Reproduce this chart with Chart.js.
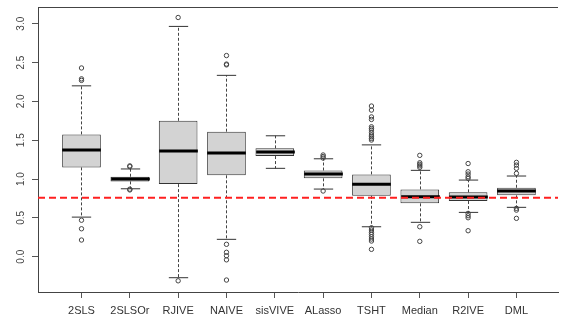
<!DOCTYPE html>
<html>
<head>
<meta charset="utf-8">
<script src="https://cdn.jsdelivr.net/npm/chart.js@4.4.1/dist/chart.umd.min.js"></script>
<style>
  body { margin: 0; background: #fff; }
  #wrap { width: 563px; height: 323px; }
</style>
</head>
<body>
<div id="wrap"><canvas id="boxChart"></canvas></div>
<script>
const labels = ["2SLS", "2SLSOr", "RJIVE", "NAIVE", "sisVIVE", "ALasso", "TSHT", "Median", "R2IVE", "DML"];
const whiskerLow = [0.51, 0.875, -0.27, 0.224, 1.138, 0.871, 0.386, 0.443, 0.571, 0.636];
const q1 = [1.15, 0.97, 0.935, 1.048, 1.296, 1.009, 0.785, 0.687, 0.717, 0.79];
const medians = [1.373, 1.0, 1.36, 1.335, 1.347, 1.064, 0.932, 0.772, 0.768, 0.846];
const q3 = [1.575, 1.03, 1.75, 1.61, 1.395, 1.11, 1.06, 0.867, 0.829, 0.888];
const whiskerHigh = [2.2, 1.13, 2.965, 2.335, 1.557, 1.261, 1.44, 1.112, 0.987, 1.039];
const outliers = [
  [2.43, 2.29, 2.27, 0.47, 0.36, 0.215],
  [1.17, 1.16, 0.87, 0.86],
  [3.08, -0.31],
  [2.59, 2.48, 2.47, 0.16, 0.057, 0.013, -0.04, -0.3],
  [],
  [1.31, 1.29, 1.27, 0.846],
  [1.94, 1.888, 1.8, 1.767, 1.673, 1.651, 1.63, 1.596, 1.566, 1.544, 1.523, 1.502,
   0.373, 0.344, 0.314, 0.288, 0.257, 0.228, 0.202, 0.095],
  [1.305, 1.21, 1.19, 1.17, 1.15, 0.386, 0.198],
  [1.2, 1.094, 1.064, 1.03, 1.009, 0.558, 0.528, 0.502, 0.335],
  [1.215, 1.18, 1.138, 1.073, 0.623, 0.6, 0.494]
];
const yTicks = [0, 0.5, 1, 1.5, 2, 2.5, 3];
const refValue = 0.76;

const xMin = 0.1;
const xMax = 10.86;
const positions = labels.map((_, i) => i + 1);

// whiskers, staples and medians, drawn right after the boxes
const boxExtras = {
  id: "boxExtras",
  afterDatasetDraw(chart, args) {
    if (args.index !== 2) return;
    const ctx = chart.ctx;
    const x = chart.scales.x;
    const y = chart.scales.y;
    const unit = x.getPixelForValue(2) - x.getPixelForValue(1);
    ctx.save();
    positions.forEach((p, i) => {
      const cx = Math.round(x.getPixelForValue(p)) + 0.5;
      const hi = y.getPixelForValue(whiskerHigh[i]);
      const lo = y.getPixelForValue(whiskerLow[i]);

      ctx.strokeStyle = "#444";
      ctx.lineWidth = 1;
      ctx.setLineDash([3, 2]);
      ctx.beginPath();
      ctx.moveTo(cx, y.getPixelForValue(q3[i]));
      ctx.lineTo(cx, hi);
      ctx.moveTo(cx, y.getPixelForValue(q1[i]));
      ctx.lineTo(cx, lo);
      ctx.stroke();

      ctx.setLineDash([]);
      ctx.strokeStyle = "#333";
      ctx.beginPath();
      ctx.moveTo(cx - unit * 0.2, hi);
      ctx.lineTo(cx + unit * 0.2, hi);
      ctx.moveTo(cx - unit * 0.2, lo);
      ctx.lineTo(cx + unit * 0.2, lo);
      ctx.stroke();

      const my = y.getPixelForValue(medians[i]);
      ctx.strokeStyle = "#000";
      ctx.lineWidth = 3;
      ctx.beginPath();
      ctx.moveTo(cx - unit * 0.4, my);
      ctx.lineTo(cx + unit * 0.4, my);
      ctx.stroke();
    });
    ctx.restore();
  }
};

// top frame line and rotated y tick labels
const frame = {
  id: "frame",
  afterDraw(chart) {
    const ctx = chart.ctx;
    const area = chart.chartArea;
    const y = chart.scales.y;
    ctx.save();
    ctx.strokeStyle = "#444";
    ctx.lineWidth = 1;
    ctx.beginPath();
    ctx.moveTo(area.left, Math.round(area.top) + 0.5);
    ctx.lineTo(area.right, Math.round(area.top) + 0.5);
    ctx.stroke();

    ctx.fillStyle = "#444";
    ctx.font = "10px 'Liberation Sans', Arial, sans-serif";
    ctx.textAlign = "center";
    ctx.textBaseline = "alphabetic";
    yTicks.forEach((v) => {
      ctx.save();
      ctx.translate(23.5, y.getPixelForValue(v));
      ctx.rotate(-Math.PI / 2);
      ctx.fillText(v.toFixed(1), 0, 0);
      ctx.restore();
    });
    ctx.restore();
  }
};

const outlierPoints = [];
outliers.forEach((list, i) => {
  list.forEach((v) => outlierPoints.push({ x: positions[i], y: v }));
});

new Chart(document.getElementById("boxChart"), {
  type: "bar",
  data: {
    datasets: [
      {
        type: "line",
        data: [{ x: xMin, y: refValue }, { x: xMax, y: refValue }],
        borderColor: "#ff2020",
        borderWidth: 2,
        borderDash: [7, 4],
        pointRadius: 0,
      },
      {
        type: "line",
        data: outlierPoints,
        showLine: false,
        pointRadius: 2.2,
        pointBorderWidth: 1,
        pointBorderColor: "#444",
        pointBackgroundColor: "rgba(0,0,0,0)",
      },
      {
        type: "bar",
        data: positions.map((p, i) => ({ x: p, y: [q1[i], q3[i]] })),
        backgroundColor: "#d3d3d3",
        borderColor: "#333",
        borderWidth: 1,
        borderSkipped: false,
        categoryPercentage: 1,
        barPercentage: 0.8,
      },
    ],
  },
  options: {
    responsive: true,
    maintainAspectRatio: false,
    animation: false,
    layout: { padding: { top: 7, right: 0, left: 0, bottom: 0 } },
    plugins: { legend: { display: false }, tooltip: { enabled: false } },
    scales: {
      x: {
        type: "linear",
        min: xMin,
        max: xMax,
        offset: false,
        afterBuildTicks: (s) => { s.ticks = positions.map((p) => ({ value: p })); },
        afterFit: (s) => { s.height = 31; },
        grid: { offset: false, drawOnChartArea: false, drawTicks: true, tickLength: 6, color: "#555" },
        border: { display: true, color: "#444" },
        ticks: {
          autoSkip: false,
          maxRotation: 0,
          padding: 6,
          color: "#333",
          font: { family: "'Liberation Sans', Arial, sans-serif", size: 11 },
          callback: (v) => labels[v - 1],
        },
      },
      y: {
        min: -0.454,
        max: 3.215,
        afterBuildTicks: (s) => { s.ticks = yTicks.map((v) => ({ value: v })); },
        afterFit: (s) => { s.width = 38; },
        grid: { drawOnChartArea: false, drawTicks: true, tickLength: 6, color: "#555" },
        border: { display: true, color: "#444" },
        ticks: { display: false },
      },
    },
  },
  plugins: [boxExtras, frame],
});
</script>
</body>
</html>
